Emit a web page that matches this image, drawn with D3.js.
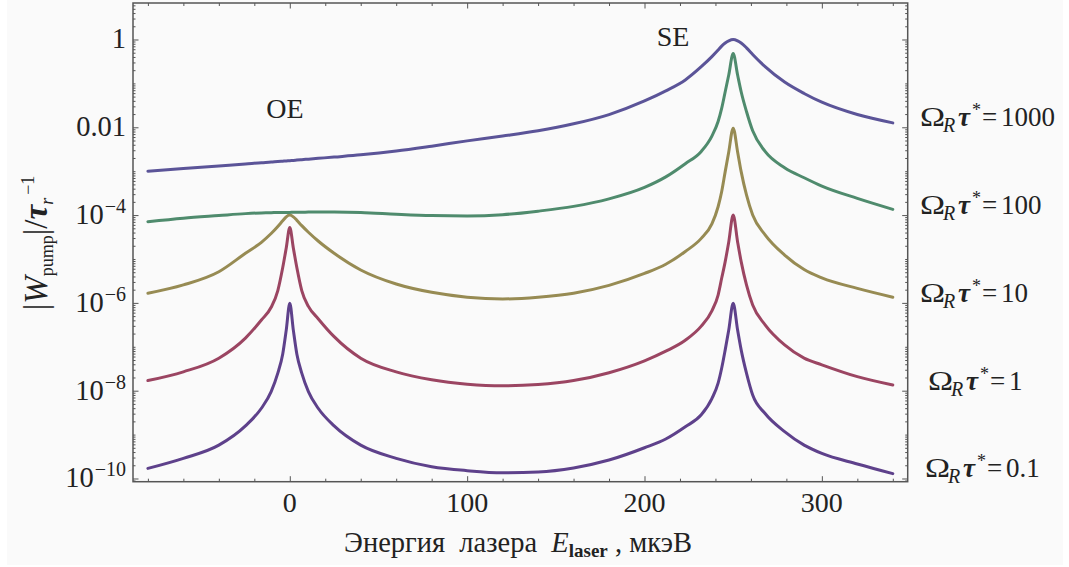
<!DOCTYPE html>
<html><head><meta charset="utf-8">
<script src="https://cdn.jsdelivr.net/npm/d3@7"></script>
<style>
html,body{margin:0;padding:0;background:#fff;}
text{font-family:'Liberation Serif','DejaVu Serif',serif;fill:#222;white-space:pre;}
</style></head><body>
<svg id="chart" width="1069" height="567" font-family="Liberation Serif, DejaVu Serif, serif"></svg>
<script>
// Laser energy grid, µeV
const energy = [-80, -60, -40, -25, -16, -10.5, -6.75, -4, -2, 0, 2, 4, 6.75, 10.5, 16, 25, 40, 60, 80, 100,
  120, 140, 160, 180, 200, 212, 223, 232, 238, 241.5, 243.5, 245.5, 247.5, 250, 252.5, 254.5, 257.5, 261, 268, 279,
  290, 300, 320, 340];

// |W_pump| / tau_r^-1 for each Omega_R tau*
const w1000 = [1.00e-3, 1.15e-3, 1.32e-3, 1.46e-3, 1.56e-3, 1.61e-3, 1.66e-3, 1.69e-3, 1.71e-3, 1.74e-3,
  1.76e-3, 1.79e-3, 1.83e-3, 1.88e-3, 1.96e-3, 2.10e-3, 2.36e-3, 2.88e-3, 3.72e-3, 4.90e-3,
  6.31e-3, 8.32e-3, 1.20e-2, 1.95e-2, 3.98e-2, 6.76e-2, 0.120, 0.240, 0.407, 0.575,
  0.708, 0.832, 0.933, 1.00, 0.933, 0.832, 0.646, 0.457, 0.240, 0.107,
  0.0589, 0.0372, 0.0195, 0.0126];
const w100 = [7.08e-5, 8.51e-5, 9.77e-5, 1.08e-4, 1.12e-4, 1.13e-4, 1.15e-4, 1.15e-4, 1.15e-4, 1.15e-4,
  1.16e-4, 1.16e-4, 1.16e-4, 1.17e-4, 1.17e-4, 1.17e-4, 1.15e-4, 1.05e-4, 9.77e-5, 9.55e-5,
  1.02e-4, 1.23e-4, 1.58e-4, 2.34e-4, 4.27e-4, 7.41e-4, 1.48e-3, 2.82e-3, 6.31e-3, 1.35e-2,
  2.69e-2, 6.46e-2, 0.155, 0.479, 0.155, 6.46e-2, 2.29e-2, 8.32e-3, 2.82e-3, 1.20e-3,
  7.08e-4, 4.57e-4, 2.40e-4, 1.35e-4];
const w10 = [1.66e-6, 2.57e-6, 5.13e-6, 1.35e-5, 2.40e-5, 3.80e-5, 5.50e-5, 7.41e-5, 9.12e-5, 1.00e-4,
  9.12e-5, 7.59e-5, 5.75e-5, 4.07e-5, 2.57e-5, 1.35e-5, 5.62e-6, 2.69e-6, 1.74e-6, 1.35e-6,
  1.23e-6, 1.35e-6, 1.66e-6, 2.51e-6, 4.68e-6, 7.59e-6, 1.48e-5, 2.95e-5, 6.31e-5, 1.55e-4,
  3.39e-4, 9.77e-4, 2.75e-3, 9.55e-3, 2.75e-3, 9.77e-4, 2.88e-4, 1.00e-4, 3.55e-5, 1.23e-5,
  5.75e-6, 3.72e-6, 2.14e-6, 1.35e-6];
const w1 = [1.70e-8, 2.69e-8, 5.50e-8, 1.58e-7, 4.07e-7, 7.94e-7, 1.91e-6, 6.31e-6, 1.78e-5, 5.25e-5,
  1.78e-5, 6.31e-6, 1.91e-6, 8.32e-7, 4.37e-7, 1.70e-7, 5.50e-8, 2.69e-8, 1.78e-8, 1.41e-8,
  1.29e-8, 1.38e-8, 1.70e-8, 2.57e-8, 4.79e-8, 7.94e-8, 1.41e-7, 2.95e-7, 6.61e-7, 1.51e-6,
  3.63e-6, 8.71e-6, 2.45e-5, 1.00e-4, 2.45e-5, 8.71e-6, 2.57e-6, 8.91e-7, 3.16e-7, 1.10e-7,
  5.50e-8, 3.89e-8, 2.09e-8, 1.35e-8];
const w01 = [1.70e-10, 2.88e-10, 5.75e-10, 1.58e-9, 3.98e-9, 9.55e-9, 2.51e-8, 6.76e-8, 2.40e-7, 9.77e-7,
  2.40e-7, 6.76e-8, 2.51e-8, 9.55e-9, 3.98e-9, 1.58e-9, 5.75e-10, 2.88e-10, 1.86e-10, 1.51e-10,
  1.35e-10, 1.41e-10, 1.74e-10, 2.63e-10, 5.01e-10, 7.94e-10, 1.51e-9, 2.82e-9, 6.61e-9, 1.48e-8,
  3.24e-8, 8.51e-8, 2.40e-7, 9.77e-7, 2.40e-7, 8.51e-8, 2.51e-8, 7.94e-9, 3.02e-9, 1.17e-9,
  5.75e-10, 3.72e-10, 2.14e-10, 1.29e-10];

const seriesValues = [w01, w1, w10, w100, w1000];
const seriesLabels = ["0.1", "1", "10", "100", "1000"];
const seriesColors = ["#5e418b", "#9b4562", "#978b53", "#4f8b6d", "#5b5498"];
// tick value on the right frame that each curve label sits on
const labelTicks = [1e-10, 1e-8, 1e-6, 1e-4, 1e-2];

const xMajorTicks = [0, 100, 200, 300];
const xMinorTicks = [-80, -60, -40, -20, 20, 40, 60, 80, 120, 140, 160, 180, 220, 240, 260, 280, 320, 340];
const yMajorTicks = [1, 1e-2, 1e-4, 1e-6, 1e-8, 1e-10];
const yTickBase = ["1", "0.01", "10", "10", "10", "10"];
const yTickExp = ["", "", "−4", "−6", "−8", "−10"];

const FONT = "Liberation Serif, DejaVu Serif, serif";
const svg = d3.select("#chart");
svg.append("rect").attr("x", 7).attr("y", 0).attr("width", 1056).attr("height", 565).attr("fill", "#fafafa");

const frame = {left: 133, right: 907.7, top: 3, bottom: 481.7};
const x = d3.scaleLinear().domain([-88.4, 348.4]).range([frame.left, frame.right]);
const y = d3.scaleLog().domain([8.45e-11, 6.78]).range([frame.bottom, frame.top]);

// minor log ticks: 2..9 x 10^k plus the odd decades
const yMinorTicks = [];
for (let k = -11; k <= 0; k++) {
  for (let m = 1; m <= 9; m++) {
    const v = m * Math.pow(10, k);
    if (v < y.domain()[0] || v > y.domain()[1]) continue;
    if (m === 1 && yMajorTicks.some(t => Math.abs(Math.log10(t) - k) < 1e-9)) continue;
    yMinorTicks.push(v);
  }
}

function tickLayer(axis, transform) {
  const g = svg.append("g").attr("transform", transform).call(axis);
  g.select(".domain").remove();
  g.selectAll("line").attr("stroke", "#555").attr("stroke-width", 1);
  g.selectAll("text").remove();
  return g;
}
const bottomT = `translate(0,${frame.bottom})`, topT = `translate(0,${frame.top})`;
const leftT = `translate(${frame.left},0)`, rightT = `translate(${frame.right},0)`;
tickLayer(d3.axisBottom(x).tickValues(xMajorTicks).tickSize(-5.5).tickFormat(""), bottomT);
tickLayer(d3.axisBottom(x).tickValues(xMinorTicks).tickSize(-3).tickFormat(""), bottomT);
tickLayer(d3.axisTop(x).tickValues(xMajorTicks).tickSize(-5.5).tickFormat(""), topT);
tickLayer(d3.axisTop(x).tickValues(xMinorTicks).tickSize(-3).tickFormat(""), topT);
tickLayer(d3.axisLeft(y).tickValues(yMajorTicks).tickSize(-5.5).tickFormat(""), leftT);
tickLayer(d3.axisLeft(y).tickValues(yMinorTicks).tickSize(-2.5).tickFormat(""), leftT);
tickLayer(d3.axisRight(y).tickValues(yMajorTicks).tickSize(-5.5).tickFormat(""), rightT);
tickLayer(d3.axisRight(y).tickValues(yMinorTicks).tickSize(-2.5).tickFormat(""), rightT);

// curves
const line = d3.line().x(d => x(d[0])).y(d => y(d[1])).curve(d3.curveMonotoneX);
seriesValues.forEach((vals, i) => {
  svg.append("path")
    .datum(energy.map((e, j) => [e, vals[j]]))
    .attr("d", line)
    .attr("fill", "none")
    .attr("stroke", seriesColors[i])
    .attr("stroke-width", 3)
    .attr("stroke-linejoin", "round")
    .attr("stroke-linecap", "round");
});

// frame
svg.append("rect")
  .attr("x", frame.left).attr("y", frame.top)
  .attr("width", frame.right - frame.left).attr("height", frame.bottom - frame.top)
  .attr("fill", "none").attr("stroke", "#555").attr("stroke-width", 1.5);

const FS = 28;
function label(parent, xp, yp, size) {
  return parent.append("text").attr("x", xp).attr("y", yp)
    .attr("font-family", FONT).attr("font-size", size).attr("fill", "#222");
}

// x tick labels
xMajorTicks.forEach(t => label(svg, x(t), 512, FS).attr("text-anchor", "middle").text(t));

// y tick labels
yMajorTicks.forEach((t, i) => {
  const txt = label(svg, 126, y(t) + 9, 28.5).attr("text-anchor", "end");
  txt.append("tspan").text(yTickBase[i]);
  if (yTickExp[i]) txt.append("tspan").attr("font-size", 20).attr("dx", 1).attr("dy", -11).text(yTickExp[i]);
});

// curve labels on the right: Ω_R τ* = value
const labelX = [925, 928, 920, 920, 920];
seriesLabels.forEach((lab, i) => {
  const g = svg.append("g").attr("transform", `translate(${labelX[i]},${y(labelTicks[i]) - 1})`);
  label(g, 0, 0, 27).attr("transform", "scale(1.25,1)").text("Ω");
  label(g, 23, 6, 20).attr("font-style", "italic").text("R");
  label(g, 38, 0, 27).attr("font-weight", "bold").attr("font-style", "italic").text("τ");
  label(g, 52, -10, 18).text("*");
  label(g, 62, 0, 27).text("=");
  label(g, 81, 0, 27).text(lab);
});

// peak annotations
label(svg, 285, 118, 28).attr("text-anchor", "middle").text("OE");
label(svg, 673, 46, 28).attr("text-anchor", "middle").text("SE");

// x axis title
const xt = label(svg, 518, 552, 28.5).attr("text-anchor", "middle");
xt.append("tspan").text("Энергия  лазера  ");
xt.append("tspan").attr("font-style", "italic").text("E");
xt.append("tspan").attr("font-size", 19).attr("font-weight", "bold").attr("dy", 5).text("laser");
xt.append("tspan").attr("dy", -5).text(" , мкэВ");

// y axis title
const yt = label(svg, 0, 0, 33).attr("transform", "translate(46.5,243) rotate(-90)").attr("text-anchor", "middle");
yt.append("tspan").text("|");
yt.append("tspan").attr("font-style", "italic").text("W");
yt.append("tspan").attr("font-size", 18).attr("dy", 6).text("pump");
yt.append("tspan").attr("dy", -6).text("|/");
yt.append("tspan").attr("font-weight", "bold").attr("font-style", "italic").text("τ");
yt.append("tspan").attr("font-size", 18).attr("font-style", "italic").attr("dy", 6).text("r");
yt.append("tspan").attr("font-size", 18).attr("dx", 3).attr("dy", -19).text("−1");
</script>
</body></html>
